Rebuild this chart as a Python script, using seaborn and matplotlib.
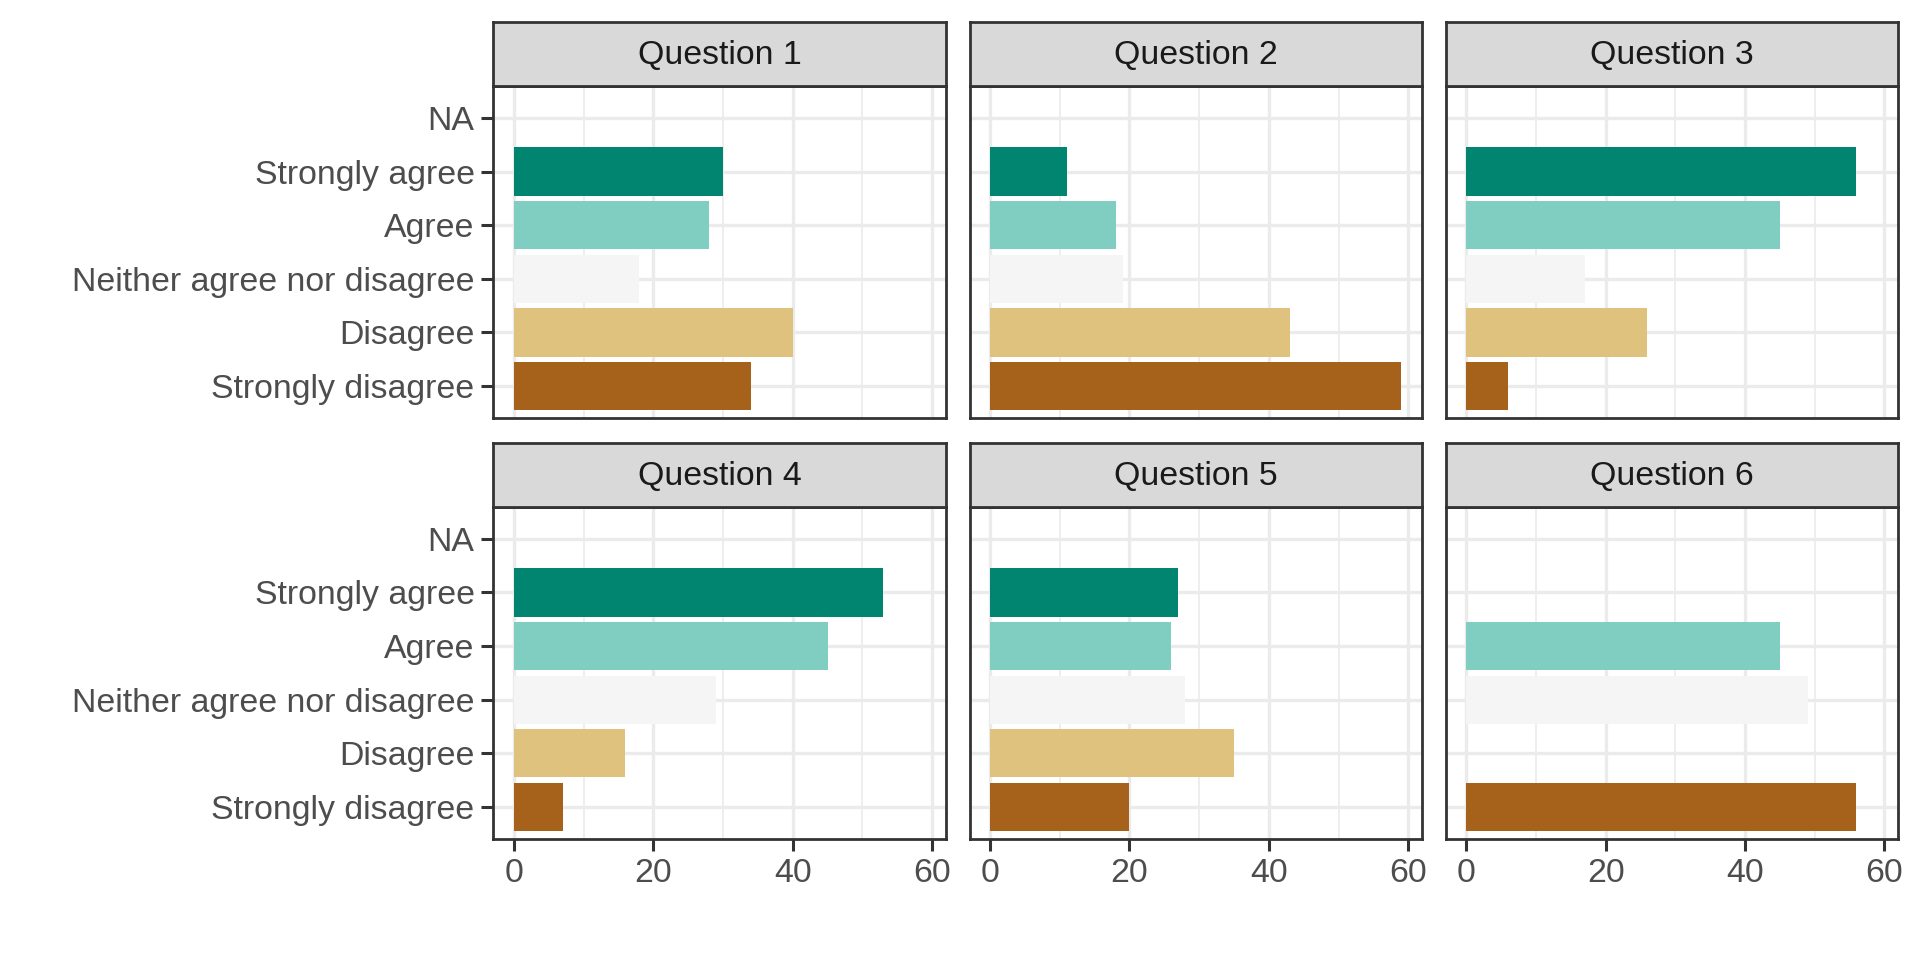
import matplotlib.pyplot as plt
import seaborn as sns
import pandas as pd

questions = ['Question 1', 'Question 2', 'Question 3', 'Question 4', 'Question 5', 'Question 6']
answers = ['NA', 'Strongly agree', 'Agree', 'Neither agree nor disagree', 'Disagree', 'Strongly disagree']
colors = ['#018571', '#80CDC1', '#F5F5F5', '#DFC27D', '#A6611A']

# counts per question (None = nobody answered that)
strongly_agree = [30, 11, 56, 53, 27, None]
agree = [28, 18, 45, 45, 26, 45]
neither = [18, 19, 17, 29, 28, 49]
disagree = [40, 43, 26, 16, 35, None]
strongly_disagree = [34, 59, 6, 7, 20, 56]

rows = []
for i, q in enumerate(questions):
    for ans, vals in zip(answers[1:], [strongly_agree, agree, neither, disagree, strongly_disagree]):
        if vals[i] is not None:
            rows.append({'question': q, 'answer': ans, 'count': vals[i]})
df = pd.DataFrame(rows)

sns.set_style('white')
plt.rcParams['font.family'] = ['Liberation Sans', 'DejaVu Sans']

fig, axes = plt.subplots(2, 3, figsize=(9.6, 4.8), dpi=200, sharex=True, sharey=True)
fig.subplots_adjust(left=0.257, right=0.9885, top=0.9107, bottom=0.126, wspace=0.053, hspace=0.266)

pal = dict(zip(answers[1:], colors))

for i, q in enumerate(questions):
    ax = axes.flat[i]
    sub = df[df['question'] == q]
    sns.barplot(data=sub, x='count', y='answer', hue='answer', order=answers,
                hue_order=answers[1:], palette=pal, width=0.9, dodge=False,
                legend=False, errorbar=None, linewidth=0, saturation=1,
                orient='h', ax=ax)
    ax.set_xlim(-2.95, 61.95)
    ax.set_ylim(5.6, -0.6)
    ax.set_xlabel('')
    ax.set_ylabel('')
    ax.set_xticks([0, 20, 40, 60])
    ax.set_xticks([10, 30, 50], minor=True)
    ax.set_axisbelow(True)
    ax.grid(True, which='major', color='#EBEBEB', linewidth=1.2)
    ax.grid(True, which='minor', axis='x', color='#EBEBEB', linewidth=0.6)
    for s in ax.spines.values():
        s.set_visible(True)
        s.set_color('#333333')
        s.set_linewidth(1.0)
    ax.tick_params(which='major', length=4.3, width=1.1, color='#333333',
                   labelsize=12.2, labelcolor='#4D4D4D', pad=2.5,
                   left=(i % 3 == 0), bottom=(i >= 3))
    ax.tick_params(which='minor', length=0)

    # facet strip on top
    pos = ax.get_position()
    sax = fig.add_axes([pos.x0, pos.y1, pos.width, 0.0664])
    sax.set_facecolor('#D9D9D9')
    sax.set_xticks([])
    sax.set_yticks([])
    for s in sax.spines.values():
        s.set_color('#333333')
        s.set_linewidth(1.0)
    sax.text(0.5, 0.47, q, ha='center', va='center', fontsize=12.2, color='#1A1A1A',
             transform=sax.transAxes)

fig.savefig('out.png', dpi=200, facecolor='white')
